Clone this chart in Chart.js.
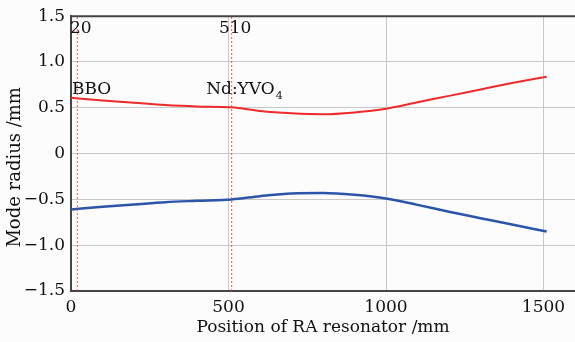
<!DOCTYPE html>
<html>
<head>
<meta charset="utf-8">
<script src="https://cdn.jsdelivr.net/npm/chart.js@4/dist/chart.umd.min.js"></script>
<style>
  html, body { margin: 0; padding: 0; background: #fcfcfc; }
  #wrap { width: 575px; height: 342px; }
</style>
</head>
<body>
<div id="wrap"><canvas id="c" width="575" height="342"></canvas></div>
<script>
// ---- data ----
const positions = [0, 100, 200, 300, 400, 510, 600, 700, 800, 900, 1000, 1100, 1200, 1300, 1400, 1510];
const upperRadius = [0.61, 0.58, 0.555, 0.53, 0.515, 0.505, 0.465, 0.44, 0.43, 0.45, 0.49, 0.56, 0.63, 0.70, 0.77, 0.84];
const lowerRadius = [-0.61, -0.58, -0.555, -0.53, -0.515, -0.50, -0.465, -0.435, -0.43, -0.45, -0.49, -0.56, -0.635, -0.705, -0.775, -0.85];
const markerPositions = [20, 510];
const markerLabels = ['20', '510'];
const componentNames = ['BBO', 'Nd:YVO'];
const componentSubs = ['', '4'];
const componentLabelX = [3, 429];
const xTicks = [0, 500, 1000, 1500];
const yTicks = [-1.5, -1.0, -0.5, 0, 0.5, 1.0, 1.5];
const yTitle = 'Mode radius /mm';
const xTitle = 'Position of RA resonator /mm';

const FONT = 'DejaVu Serif';
const fmtY = v => v === 0 ? '0' : (v < 0 ? '\u2212' : '') + Math.abs(v).toFixed(1);

const datasets = [];
markerPositions.forEach(m => datasets.push({
  data: [{x: m, y: -1.5}, {x: m, y: 1.5}],
  borderColor: 'rgba(245,70,70,0.9)', borderWidth: 1, borderDash: [2, 2], pointRadius: 0
}));
datasets.push(
  {
    data: positions.map((x, i) => ({x, y: upperRadius[i]})),
    borderColor: '#ee2a2a', borderWidth: 2, pointRadius: 0, cubicInterpolationMode: 'monotone'
  },
  {
    data: positions.map((x, i) => ({x, y: lowerRadius[i]})),
    borderColor: '#2b55a8', borderWidth: 2.5, pointRadius: 0, cubicInterpolationMode: 'monotone'
  }
);

const annot = {
  id: 'annot',
  afterDatasetsDraw(chart) {
    const {ctx, chartArea: a, scales: {x, y}} = chart;
    ctx.save();
    ctx.strokeStyle = '#444';
    ctx.lineWidth = 2;
    ctx.beginPath();
    ctx.moveTo(a.left, a.top); ctx.lineTo(a.right + 5, a.top);
    ctx.stroke();
    ctx.fillStyle = '#111';
    ctx.font = '17px "' + FONT + '"';
    ctx.textBaseline = 'alphabetic';
    ctx.textAlign = 'center';
    markerPositions.forEach((m, i) => {
      ctx.fillText(markerLabels[i], x.getPixelForValue(m) + 3.5, y.getPixelForValue(1.32));
    });
    ctx.textAlign = 'left';
    componentNames.forEach((n, i) => {
      const px = x.getPixelForValue(componentLabelX[i]);
      const py = y.getPixelForValue(0.65);
      ctx.font = '17px "' + FONT + '"';
      ctx.fillText(n, px, py);
      if (componentSubs[i]) {
        const w = ctx.measureText(n).width;
        ctx.font = '11px "' + FONT + '"';
        ctx.fillText(componentSubs[i], px + w + 1, py + 5);
      }
    });
    // y-axis title
    ctx.font = '18px "' + FONT + '"';
    ctx.textAlign = 'center';
    ctx.textBaseline = 'middle';
    ctx.translate(15, y.getPixelForValue(-0.15));
    ctx.rotate(-Math.PI / 2);
    ctx.fillText(yTitle, 0, 0);
    ctx.restore();
  }
};

new Chart(document.getElementById('c'), {
  type: 'line',
  data: { datasets },
  plugins: [annot],
  options: {
    responsive: false,
    devicePixelRatio: 1,
    animation: false,
    layout: { padding: { top: 13, right: 0, left: 0, bottom: 0 } },
    plugins: { legend: { display: false }, tooltip: { enabled: false } },
    scales: {
      x: {
        type: 'linear', min: 0, max: 1600,
        afterBuildTicks: s => { s.ticks = xTicks.map(v => ({value: v})); },
        afterFit: s => { s.height = 51; },
        grid: { color: '#c8c8c8', lineWidth: 1, drawTicks: false },
        border: { color: '#444', width: 2 },
        ticks: { color: '#111', font: { family: FONT, size: 17 }, padding: 6, maxRotation: 0, callback: v => String(v) },
        title: { display: true, text: xTitle, color: '#111',
                 font: { family: FONT, size: 17 }, padding: { top: 0, bottom: 4 } }
      },
      y: {
        type: 'linear', min: -1.5, max: 1.5,
        afterBuildTicks: s => { s.ticks = yTicks.map(v => ({value: v})); },
        afterFit: s => { s.width = 71; },
        grid: { color: '#c8c8c8', lineWidth: 1, drawTicks: false },
        border: { color: '#444', width: 2 },
        ticks: { color: '#111', font: { family: FONT, size: 17 }, padding: 6, callback: v => fmtY(v) }
      }
    }
  }
});
</script>
</body>
</html>
